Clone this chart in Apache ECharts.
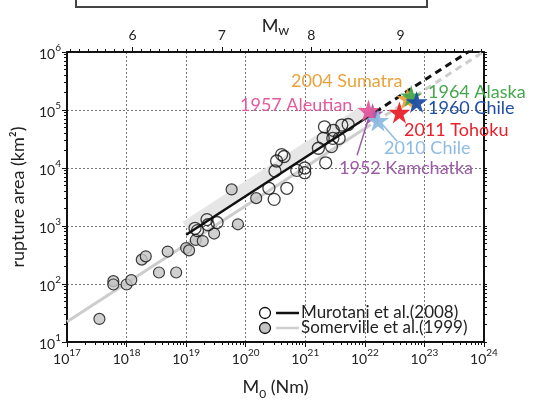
<!DOCTYPE html>
<html>
<head>
<meta charset="utf-8">
<script src="https://cdn.jsdelivr.net/npm/echarts@6/dist/echarts.min.js"></script>
<style>
html, body { margin: 0; padding: 0; background: #fff; }
#chart { width: 533px; height: 405px; }
</style>
</head>
<body>
<div id="chart"></div>
<script>
// open circles (Murotani et al. 2008 data set)
const openM0 = [1.41e19, 1.55e19, 2.24e19, 2.34e19, 3.3e19, 2.45e20, 3.0e20, 4.9e20, 3.1e20, 3.3e20,
  4.0e20, 4.4e20, 7.2e20, 9.8e20, 9.8e20, 1.66e21, 2.75e21, 2.2e21, 2.0e21, 2.9e21,
  3.7e21, 2.1e21, 2.95e21, 4.1e21, 5.25e21];
const openArea = [912, 832, 1290, 1050, 1150, 4470, 2880, 4470, 8900, 13200,
  17000, 15800, 9100, 8300, 10000, 21900, 23400, 12300, 32400, 32400,
  32400, 51300, 44700, 55000, 56200];

// grey circles (Somerville et al. 1999 data set)
const greyM0 = [3.5e17, 6.0e17, 6.0e17, 1.0e18, 1.2e18, 1.8e18, 2.1e18, 3.5e18, 4.9e18, 6.8e18,
  1.0e19, 1.12e19, 1.45e19, 1.9e19, 2.95e19, 7.4e19, 5.8e19, 1.5e20];
const greyArea = [25, 112, 98, 98, 117, 263, 300, 158, 363, 158,
  417, 380, 575, 550, 741, 1070, 4270, 3020];

// great earthquakes (stars), drawn in this order
const quakeNames = ['2004 Sumatra', '1952 Kamchatka', '1957 Aleutian', '2010 Chile', '2011 Tohoku', '1964 Alaska', '1960 Chile'];
const quakeM0 = [5.2e22, 1.35e22, 1.15e22, 1.66e22, 3.8e22, 6.0e22, 7.4e22];
const quakeArea = [158000, 85000, 97700, 66000, 91000, 174000, 138000];
const quakeColors = ['#e9a33c', '#9b5ba5', '#e35a9d', '#8ebbe3', '#e8212b', '#45a84d', '#1f4ea3'];

// scaling relations (end points)
const murotaniM0 = [1e19, 1e22];
const murotaniArea = [708, 70800];
const murotaniExtM0 = [1e22, 1e24];
const murotaniExtArea = [70800, 1.51e6];
const somervilleM0 = [1e17, 1e22];
const somervilleArea = [22.4, 47900];
const somervilleExtM0 = [1e22, 1e24];
const somervilleExtArea = [47900, 1.02e6];
const bandM0 = [1e19, 1e22];
const bandArea = [955, 95500];

// leader lines from labels to stars
const kamLineM0 = [7.4e21, 1.15e22];
const kamLineArea = [16600, 70800];
const chileLineM0 = [3.47e22, 1.86e22];
const chileLineArea = [28800, 60300];

// Mw axis: Mw = (log10 M0 - 9.1) / 1.5
const mwTicks = [6, 7, 8, 9];
const mwMin = (17 - 9.1) / 1.5;
const mwMax = (24 - 9.1) / 1.5;

const FONT = 'Lato';
const pairs = (xs, ys) => xs.map((x, i) => [x, ys[i]]);
const minorLog = (a, b) => {
  const out = [];
  for (let n = a; n < b; n++) for (let k = 2; k <= 9; k++) out.push(n + Math.log10(k));
  return out;
};
const allLog = (a, b) => {
  const out = minorLog(a, b);
  for (let n = a; n <= b; n++) out.push(n);
  return out;
};
const mwMinor = [];
for (let m = 53; m <= 99; m++) mwMinor.push(m / 10);

const supLabel = v => '{b|10}{s|' + Math.round(Math.log10(v)) + '}';
const supRich = {
  b: { fontSize: 14, fontFamily: FONT, color: '#222', lineHeight: 18, verticalAlign: 'bottom' },
  s: { fontSize: 10, fontFamily: FONT, color: '#222', lineHeight: 12, verticalAlign: 'top' }
};
const black = '#111';
const STAR = 'path://M50,0 L61,35 L98,35 L68,57 L79,91 L50,70 L21,91 L32,57 L2,35 L39,35 Z';

const chart = echarts.init(document.getElementById('chart'));

const labelPos = [
  [291, 81], [339, 168], [240, 105], [384, 148], [404, 130], [428, 92], [428, 108]
];
const graphics = quakeNames.map((name, i) => ({
  type: 'text', x: labelPos[i][0], y: labelPos[i][1], z: 100,
  style: { text: name, fill: quakeColors[i], font: '18px ' + FONT, verticalAlign: 'middle', align: 'left' }
}));
graphics.push(
  { type: 'rect', shape: { x: 76, y: -10, width: 351, height: 17 }, style: { fill: 'none', stroke: '#444', lineWidth: 2 } },
  { type: 'circle', shape: { cx: 265, cy: 313, r: 5.5 }, style: { fill: '#fff', stroke: black, lineWidth: 1.3 }, z: 100 },
  { type: 'line', shape: { x1: 276, y1: 313, x2: 299, y2: 313 }, style: { stroke: black, lineWidth: 2.5 }, z: 100 },
  { type: 'circle', shape: { cx: 265, cy: 328, r: 5.5 }, style: { fill: '#c4c4c4', stroke: black, lineWidth: 1.3 }, z: 100 },
  { type: 'line', shape: { x1: 276, y1: 328, x2: 299, y2: 328 }, style: { stroke: '#cfcfcf', lineWidth: 2.5 }, z: 100 },
  { type: 'text', x: 301, y: 313, z: 100, style: { text: 'Murotani et al.(2008)', fill: '#222', font: '17px ' + FONT, verticalAlign: 'middle' } },
  { type: 'text', x: 301, y: 328, z: 100, style: { text: 'Somerville et al.(1999)', fill: '#222', font: '17px ' + FONT, verticalAlign: 'middle' } }
);

chart.setOption({
  animation: false,
  grid: { left: 67, right: 49, top: 52, bottom: 58 },
  xAxis: [
    {
      type: 'log', min: 1e17, max: 1e24, position: 'bottom',
      axisLine: { lineStyle: { color: black, width: 2 } },
      axisTick: { length: 5, lineStyle: { color: black } },
      axisLabel: { formatter: supLabel, rich: supRich, margin: 6 },
      splitLine: { show: true, lineStyle: { color: '#777', type: [2, 2] } },
      name: '{m|M}{o|0}{m| (Nm)}', nameLocation: 'middle', nameGap: 36, nameMoveOverlap: false,
      nameTextStyle: {
        rich: {
          m: { fontSize: 18, fontFamily: FONT, color: '#222', lineHeight: 22, verticalAlign: 'top' },
          o: { fontSize: 12, fontFamily: FONT, color: '#222', lineHeight: 14, verticalAlign: 'bottom' }
        }
      }
    },
    {
      type: 'value', min: 17, max: 24, position: 'bottom',
      axisLine: { show: false }, axisLabel: { show: false }, splitLine: { show: false },
      axisTick: { customValues: minorLog(17, 24), length: 3, lineStyle: { color: black } }
    },
    {
      type: 'value', min: mwMin, max: mwMax, position: 'top',
      axisLine: { lineStyle: { color: black, width: 2 } },
      axisTick: { customValues: mwTicks, length: 5, lineStyle: { color: black } },
      axisLabel: { customValues: mwTicks, fontSize: 14, fontFamily: FONT, color: '#222', margin: 10 },
      splitLine: { show: false },
      name: '{m|M}{w|w}', nameLocation: 'middle', nameGap: 15, nameMoveOverlap: false,
      nameTextStyle: {
        rich: {
          m: { fontSize: 18, fontFamily: FONT, color: '#222', lineHeight: 20, verticalAlign: 'top' },
          w: { fontSize: 14, fontFamily: FONT, color: '#222', lineHeight: 16, verticalAlign: 'bottom' }
        }
      }
    },
    {
      type: 'value', min: mwMin, max: mwMax, position: 'top',
      axisLine: { show: false }, axisLabel: { show: false }, splitLine: { show: false },
      axisTick: { customValues: mwMinor, length: 3, lineStyle: { color: black } }
    }
  ],
  yAxis: [
    {
      type: 'log', min: 10, max: 1e6, position: 'left',
      axisLine: { lineStyle: { color: black, width: 2 } },
      axisTick: { length: 5, lineStyle: { color: black } },
      axisLabel: { formatter: supLabel, rich: supRich, margin: 6 },
      splitLine: { show: true, lineStyle: { color: '#777', type: [2, 2] } },
      name: 'rupture area (km²)', nameLocation: 'middle', nameGap: 40, nameRotate: 90,
      nameTextStyle: { fontSize: 18, fontFamily: FONT, color: '#222' }
    },
    {
      type: 'value', min: 1, max: 6, position: 'left',
      axisLine: { show: false }, axisLabel: { show: false }, splitLine: { show: false },
      axisTick: { customValues: minorLog(1, 6), length: 3, lineStyle: { color: black } }
    },
    {
      type: 'value', min: 1, max: 6, position: 'right',
      axisLine: { show: true, lineStyle: { color: black, width: 2 } },
      axisLabel: { show: false }, splitLine: { show: false },
      axisTick: { customValues: allLog(1, 6), length: 3, lineStyle: { color: black } }
    }
  ],
  series: [
    { type: 'line', data: pairs(bandM0, bandArea), symbol: 'none', silent: true, z: 1,
      lineStyle: { color: '#e6e6e6', width: 13 } },
    { type: 'line', data: pairs(somervilleM0, somervilleArea), symbol: 'none', z: 2,
      lineStyle: { color: '#cdcdcd', width: 3 } },
    { type: 'line', data: pairs(somervilleExtM0, somervilleExtArea), symbol: 'none', z: 2,
      lineStyle: { color: '#cdcdcd', width: 3, type: [7, 5] } },
    { type: 'line', data: pairs(murotaniM0, murotaniArea), symbol: 'none', z: 3,
      lineStyle: { color: black, width: 2.5 } },
    { type: 'line', data: pairs(murotaniExtM0, murotaniExtArea), symbol: 'none', z: 3,
      lineStyle: { color: black, width: 3, type: [7, 5] } },
    { type: 'scatter', data: pairs(greyM0, greyArea), symbol: 'circle', symbolSize: 11, z: 4,
      itemStyle: { color: '#c4c4c4', borderColor: black, borderWidth: 1.2 } },
    { type: 'scatter', data: pairs(openM0, openArea), symbol: 'circle', symbolSize: 12, z: 4,
      itemStyle: { color: 'rgba(255,255,255,0)', borderColor: black, borderWidth: 1.3 } },
    { type: 'line', data: pairs(kamLineM0, kamLineArea), symbol: 'none', z: 5,
      lineStyle: { color: '#9b5ba5', width: 1.5 } },
    { type: 'line', data: pairs(chileLineM0, chileLineArea), symbol: 'none', z: 5,
      lineStyle: { color: '#8ebbe3', width: 1.5 } },
    { type: 'scatter', symbol: STAR, symbolSize: 22, z: 6,
      data: quakeM0.map((x, i) => ({ value: [x, quakeArea[i]], itemStyle: { color: quakeColors[i], opacity: 0.95 } })) }
  ],
  graphic: graphics
});
</script>
</body>
</html>
